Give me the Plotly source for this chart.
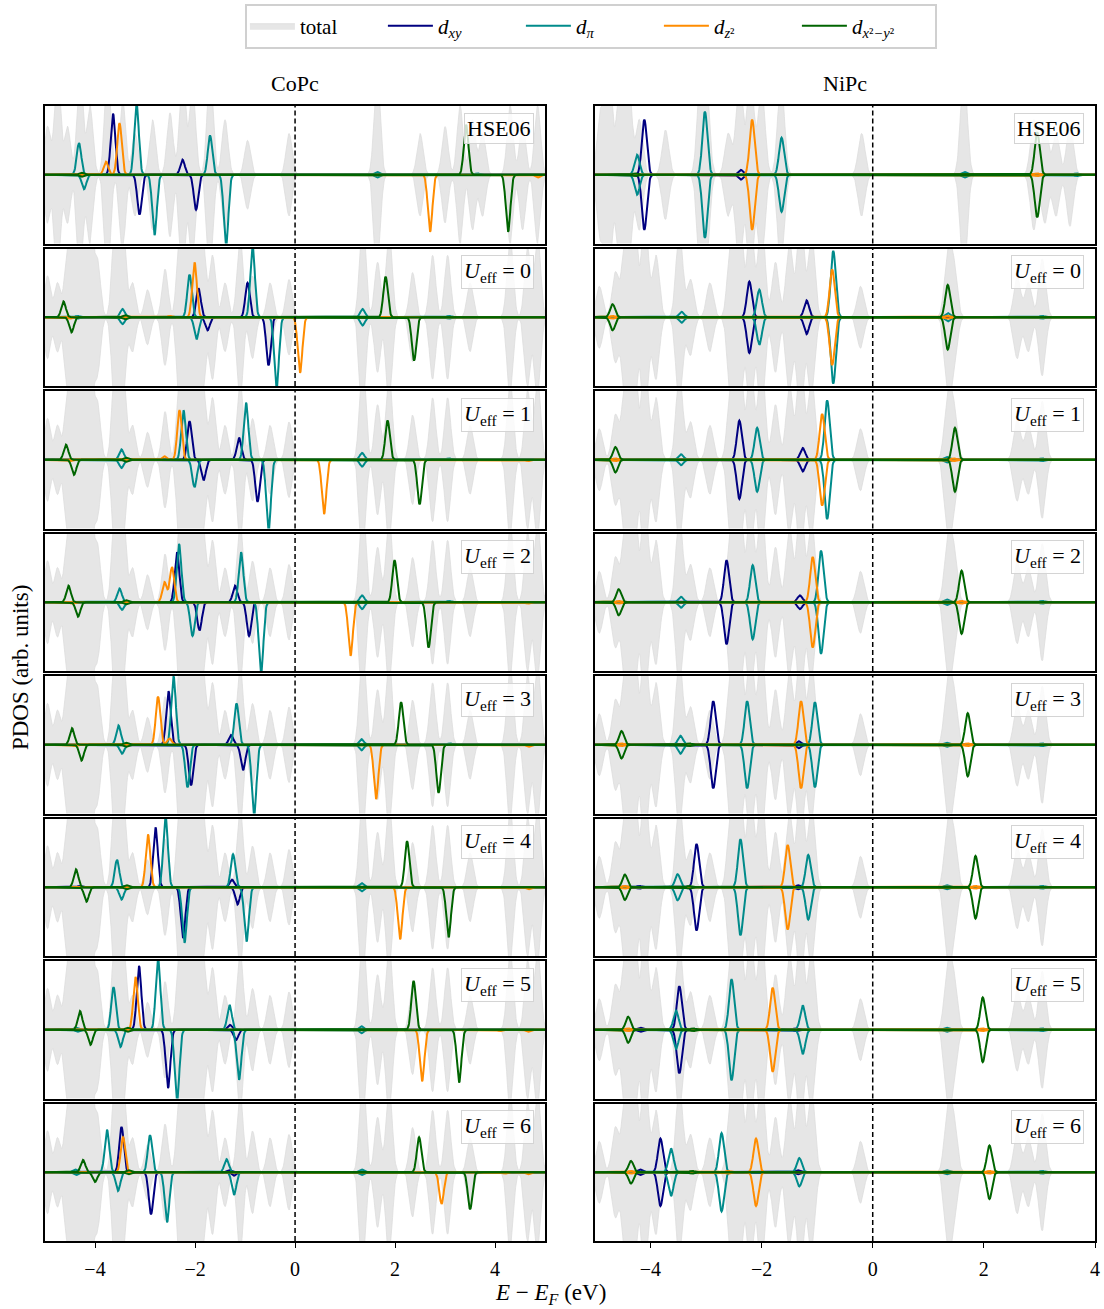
import numpy as np
import plotly.graph_objects as go
from plotly.subplots import make_subplots

# ---------------------------------------------------------------- data
PANELS = ["HSE06", "0", "1", "2", "3", "4", "5", "6"]
SYSTEMS = ["CoPc", "NiPc"]
X_RANGES = [[-5, 5], [-5, 4]]
TICK_VALS = [-4, -2, 0, 2, 4]
TICK_TEXT = ["−4", "−2", "0", "2", "4"]

ORBITAL_NAMES = ["total", "<i>d</i><sub><i>xy</i></sub>", "<i>d</i><sub><i>π</i></sub>",
                 "<i>d</i><sub><i>z</i>²</sub>", "<i>d</i><sub><i>x</i>²<i>−y</i>²</sub>"]

# total DOS envelope peaks (energy eV, height)
COPC_TOTAL_HSE = [(-4.95, 0.7), (-4.75, 1.5), (-4.55, 0.7), (-4.3, 1.5), (-4.1, 1.0), (-3.75, 1.5),
                  (-3.45, 1.1), (-3.2, 0.6), (-2.85, 0.8), (-2.5, 0.9), (-2.25, 1.5), (-2.05, 1.3),
                  (-1.7, 1.5), (-1.4, 0.8), (-0.95, 0.5), (-0.12, 0.6), (1.64, 1.5), (2.5, 0.6),
                  (3.0, 0.7), (3.3, 1.0), (3.55, 0.8), (3.75, 0.6), (4.3, 1.0), (4.55, 0.8), (4.85, 1.0)]
COPC_TOTAL_U = [(-4.95, 0.6), (-4.75, 0.5), (-4.55, 1.0), (-4.4, 1.3), (-4.25, 1.5), (-4.1, 1.5),
                (-3.95, 0.8), (-3.6, 1.4), (-3.45, 1.4), (-3.25, 0.5), (-2.95, 0.4), (-2.6, 0.7),
                (-2.3, 1.4), (-2.15, 1.5), (-2.0, 1.4), (-1.85, 1.2), (-1.65, 0.9), (-1.4, 0.5),
                (-1.1, 1.2), (-0.85, 0.6), (-0.5, 0.5), (-0.12, 0.55), (1.35, 1.5), (1.65, 0.8),
                (1.88, 1.3), (2.35, 0.65), (2.75, 0.9), (3.05, 0.9), (3.5, 0.5), (4.3, 1.2),
                (4.65, 1.0), (4.85, 1.2)]
NIPC_TOTAL_HSE = [(-4.9, 0.9), (-4.75, 1.5), (-4.55, 1.3), (-4.4, 1.5), (-4.2, 0.8), (-3.73, 0.65),
                  (-3.1, 1.3), (-3.0, 1.3), (-2.6, 0.6), (-2.4, 1.4), (-2.2, 1.5), (-2.0, 1.3),
                  (-1.65, 1.4), (-0.2, 0.6), (1.64, 1.5), (2.9, 0.8), (3.1, 0.7), (3.3, 0.6), (3.55, 0.75)]
NIPC_TOTAL_U = [(-4.92, 0.45), (-4.63, 0.65), (-4.45, 1.2), (-4.3, 1.5), (-4.1, 1.5), (-3.9, 0.9),
                (-3.48, 1.3), (-3.28, 0.55), (-2.93, 0.5), (-2.55, 1.2), (-2.4, 1.5), (-2.2, 1.4),
                (-2.0, 1.5), (-1.75, 0.8), (-1.5, 1.1), (-1.3, 1.5), (-1.1, 1.2), (-0.22, 0.45),
                (1.35, 0.95), (1.46, 0.7), (2.6, 0.6), (2.8, 0.5), (3.05, 0.85)]

# CoPc (spin-polarised): per panel -> (spin-up peaks, spin-down peaks)
COPC_DXY = [
    ([(-3.64, 0.89), (-2.25, 0.22)], [(-3.11, 0.58), (-1.98, 0.51)]),
    ([(-1.93, 0.42), (-0.95, 0.50)], [(-1.75, 0.19), (-0.53, 0.70)]),
    ([(-2.11, 0.56), (-1.12, 0.32)], [(-1.83, 0.30), (-0.75, 0.61)]),
    ([(-2.36, 0.73), (-1.20, 0.24)], [(-1.91, 0.41), (-0.92, 0.49)]),
    ([(-2.53, 0.78), (-1.28, 0.14)], [(-2.08, 0.59), (-1.04, 0.37)]),
    ([(-4.3, 0.02), (-2.79, 0.87), (-1.26, 0.11)], [(-2.24, 0.74), (-1.15, 0.25)]),
    ([(-3.12, 0.93), (-1.30, 0.07)], [(-2.54, 0.85), (-1.18, 0.15)]),
    ([(-3.47, 0.66), (-1.32, 0.03)], [(-2.88, 0.61), (-1.22, 0.05)]),
]
COPC_DPI = [
    ([(-4.32, 0.46), (-3.17, 1.05), (-1.70, 0.57), (1.64, 0.04), (3.65, 0.02)],
     [(-4.22, 0.21), (-2.81, 0.88), (-1.38, 1.05), (1.64, 0.04)]),
    ([(-4.35, 0.02), (-3.45, 0.12), (-2.11, 0.62), (-0.85, 1.05), (1.35, 0.12), (3.08, 0.02)],
     [(-4.35, 0.02), (-3.45, 0.10), (-1.97, 0.32), (-0.37, 1.05), (1.35, 0.12), (3.08, 0.02)]),
    ([(-3.47, 0.15), (-2.23, 0.72), (-0.98, 0.83), (1.34, 0.10), (3.08, 0.02)],
     [(-3.47, 0.12), (-2.01, 0.40), (-0.53, 1.05), (1.34, 0.10)]),
    ([(-3.51, 0.20), (-2.32, 0.85), (-1.08, 0.73), (1.34, 0.10), (3.08, 0.02)],
     [(-3.46, 0.11), (-2.05, 0.49), (-0.68, 1.05), (1.34, 0.10)]),
    ([(-3.53, 0.28), (-2.43, 1.00), (-1.17, 0.60), (1.33, 0.08), (3.10, 0.02)],
     [(-3.46, 0.13), (-2.15, 0.62), (-0.82, 1.05), (1.33, 0.08)]),
    ([(-3.56, 0.40), (-2.59, 1.05), (-1.24, 0.48), (1.33, 0.06)],
     [(-3.47, 0.18), (-2.21, 0.81), (-0.97, 0.79), (1.33, 0.06)]),
    ([(-4.38, 0.03), (-3.63, 0.62), (-2.74, 1.05), (-1.31, 0.36), (1.33, 0.05)],
     [(-4.35, 0.03), (-3.49, 0.25), (-2.36, 1.05), (-1.12, 0.73), (1.33, 0.05)]),
    ([(-4.40, 0.04), (-3.76, 0.62), (-2.90, 0.54), (-1.37, 0.19), (1.33, 0.04)],
     [(-4.38, 0.04), (-3.54, 0.27), (-2.56, 0.73), (-1.22, 0.33), (1.33, 0.04)]),
]
COPC_DZ2 = [
    ([(-3.78, 0.19), (-3.51, 0.75)], [(2.70, 0.83), (4.85, 0.04)]),
    ([(-2.50, 0.02), (-2.01, 0.80)], [(-4.50, 0.02), (0.10, 0.81)]),
    ([(-2.61, 0.05), (-2.31, 0.72)], [(-4.50, 0.02), (0.58, 0.79), (4.66, 0.02)]),
    ([(-2.61, 0.29), (-2.46, 0.51)], [(-4.45, 0.02), (1.11, 0.78), (4.66, 0.02)]),
    ([(-2.74, 0.70), (-2.51, 0.09)], [(-4.40, 0.02), (1.62, 0.79), (4.67, 0.03)]),
    ([(-2.94, 0.77)], [(2.10, 0.76), (4.67, 0.03)]),
    ([(-3.19, 0.77)], [(2.54, 0.75), (4.10, 0.02), (4.66, 0.03)]),
    ([(-3.44, 0.51)], [(2.93, 0.46), (4.20, 0.02), (4.66, 0.03)]),
]
COPC_DX2Y2 = [
    ([(-4.27, 0.03), (3.42, 0.73)], [(-4.27, 0.03), (4.26, 0.83)]),
    ([(-4.63, 0.23), (-3.40, 0.03), (1.81, 0.59)], [(-4.47, 0.22), (-3.40, 0.03), (2.38, 0.63)]),
    ([(-4.58, 0.22), (-3.38, 0.03), (1.85, 0.57)], [(-4.42, 0.22), (-3.38, 0.03), (2.49, 0.65)]),
    ([(-4.53, 0.24), (-3.38, 0.03), (1.99, 0.61)], [(-4.34, 0.21), (-3.38, 0.03), (2.67, 0.66)]),
    ([(-4.46, 0.24), (-3.38, 0.03), (2.12, 0.62)], [(-4.27, 0.23), (-3.38, 0.03), (2.87, 0.70)]),
    ([(-4.38, 0.26), (-3.37, 0.03), (2.24, 0.67)], [(-4.17, 0.21), (-3.37, 0.03), (3.07, 0.73)]),
    ([(-4.30, 0.27), (-3.35, 0.03), (2.37, 0.71)], [(-4.09, 0.22), (-3.35, 0.03), (3.28, 0.77)]),
    ([(-4.24, 0.18), (-3.33, 0.03), (2.48, 0.51)], [(-4.00, 0.14), (-3.33, 0.03), (3.50, 0.54)]),
]

# NiPc (spin-degenerate): per panel peaks, mirrored for spin-down
NIPC_DXY = [
    [(-4.11, 0.80), (-2.37, 0.07)],
    [(-2.22, 0.52), (-1.19, 0.245)],
    [(-2.40, 0.57), (-1.26, 0.17)],
    [(-2.63, 0.61), (-1.31, 0.10)],
    [(-2.87, 0.635), (-1.33, 0.05)],
    [(-4.20, 0.02), (-3.17, 0.63), (-1.35, 0.03)],
    [(-4.18, 0.03), (-3.48, 0.635), (-1.38, 0.02)],
    [(-4.19, 0.04), (-3.82, 0.49), (-1.35, 0.03)],
]
NIPC_DPI = [
    [(-4.24, 0.29), (-3.02, 0.92), (-1.64, 0.54), (1.65, 0.04), (3.67, 0.02)],
    [(-4.45, 0.01), (-3.44, 0.08), (-2.04, 0.40), (-0.71, 0.965), (1.35, 0.06), (3.05, 0.02)],
    [(-4.45, 0.01), (-3.45, 0.08), (-2.08, 0.465), (-0.82, 0.865), (1.33, 0.04), (3.05, 0.02)],
    [(-3.45, 0.08), (-2.16, 0.54), (-0.93, 0.75), (1.33, 0.04), (3.05, 0.02)],
    [(-3.46, 0.13), (-2.26, 0.635), (-1.04, 0.62), (1.33, 0.03), (3.05, 0.02)],
    [(-3.51, 0.19), (-2.38, 0.70), (-1.16, 0.47), (1.33, 0.03), (3.05, 0.02)],
    [(-3.54, 0.28), (-2.54, 0.735), (-1.26, 0.355), (1.33, 0.03), (3.05, 0.02)],
    [(-3.63, 0.345), (-2.72, 0.57), (-1.32, 0.205), (1.33, 0.03), (3.05, 0.02)],
]
NIPC_DZ2 = [
    [(-2.17, 0.80), (2.96, 0.02)],
    [(-4.68, 0.02), (-0.73, 0.695), (1.35, 0.02)],
    [(-4.63, 0.02), (-0.91, 0.665), (1.46, 0.02)],
    [(-4.57, 0.02), (-1.08, 0.66), (1.60, 0.02)],
    [(-4.52, 0.02), (-1.29, 0.635), (1.71, 0.02)],
    [(-4.46, 0.02), (-1.53, 0.615), (1.85, 0.02)],
    [(-4.40, 0.02), (-1.80, 0.61), (1.98, 0.02)],
    [(-4.35, 0.02), (-2.60, 0.02), (-2.10, 0.49), (2.10, 0.02)],
]
NIPC_DX2Y2 = [
    [(-4.27, 0.02), (2.96, 0.62)],
    [(-4.68, 0.19), (1.35, 0.47)],
    [(-4.63, 0.185), (1.48, 0.465)],
    [(-4.57, 0.19), (1.60, 0.46)],
    [(-4.52, 0.20), (-3.30, 0.02), (1.71, 0.46)],
    [(-4.46, 0.185), (-3.30, 0.02), (1.85, 0.455)],
    [(-4.40, 0.19), (-3.23, 0.02), (1.98, 0.47)],
    [(-4.35, 0.165), (-3.25, 0.02), (2.10, 0.39)],
]

# ---------------------------------------------------------------- styling
FONT = "Liberation Serif"
COLORS = ["#000080", "#008b8b", "#ff8c00", "#006400"]
GRAY = "#e6e6e6"
SIGMA_PDOS = 0.045
SIGMA_TOTAL = 0.06

FIG_W, FIG_H = 1104, 1309
PL, PR, PT, PB = 45, 1100, 106, 1241  # plot-area edges in page pixels
PW, PH = PR - PL, PB - PT

E = np.round(np.arange(-5.1, 5.1001, 0.01), 3)


def broaden(peaks, sigma):
    y = np.zeros_like(E)
    for e0, h in peaks:
        y += h * np.exp(-0.5 * ((E - e0) / sigma) ** 2)
    return y


fig = make_subplots(rows=8, cols=2, horizontal_spacing=50 / PW,
                    vertical_spacing=5 / PH)

copc_orbs = [COPC_DXY, COPC_DPI, COPC_DZ2, COPC_DX2Y2]
nipc_orbs = [NIPC_DXY, NIPC_DPI, NIPC_DZ2, NIPC_DX2Y2]

for c in range(2):
    for r in range(8):
        first = (c == 0 and r == 0)
        if c == 0:
            tot = COPC_TOTAL_HSE if r == 0 else COPC_TOTAL_U
        else:
            tot = NIPC_TOTAL_HSE if r == 0 else NIPC_TOTAL_U
        t = broaden(tot, SIGMA_TOTAL)
        fig.add_trace(go.Scatter(
            x=np.concatenate([E, E[::-1]]), y=np.round(np.concatenate([t, -t[::-1]]), 4),
            mode="lines", fill="toself", fillcolor=GRAY,
            line=dict(color="#dddddd", width=0.8),
            name=ORBITAL_NAMES[0], legendgroup="total", showlegend=first,
            hoverinfo="skip"), row=r + 1, col=c + 1)
        for k in range(4):
            if c == 0:
                up_peaks, dn_peaks = copc_orbs[k][r]
            else:
                up_peaks = dn_peaks = nipc_orbs[k][r]
            up = np.round(broaden(up_peaks, SIGMA_PDOS), 4)
            dn = np.round(-broaden(dn_peaks, SIGMA_PDOS), 4)
            xs = list(E) + [None] + list(E)
            ys = list(up) + [None] + list(dn)
            fig.add_trace(go.Scatter(
                x=xs, y=ys, mode="lines", line=dict(color=COLORS[k], width=2),
                name=ORBITAL_NAMES[k + 1], legendgroup=f"o{k}", showlegend=first,
                hoverinfo="skip"), row=r + 1, col=c + 1)
        fig.add_vline(x=0, line=dict(color="black", width=1.5, dash="5px,3px"),
                      row=r + 1, col=c + 1)
        label = "HSE06" if r == 0 else f"<i>U</i><sub>eff</sub> = {PANELS[r]}"
        idx = r * 2 + c + 1
        sfx = "" if idx == 1 else str(idx)
        fig.add_annotation(text=label, xref=f"x{sfx} domain", yref=f"y{sfx} domain",
                           x=0.978, y=0.95, xanchor="right", yanchor="top", showarrow=False,
                           font=dict(family=FONT, size=22, color="black"),
                           bgcolor="rgba(255,255,255,0.8)", bordercolor="#d4d4d4",
                           borderwidth=1, borderpad=2)

for c in range(2):
    for r in range(8):
        bottom = (r == 7)
        fig.update_xaxes(range=X_RANGES[c], showgrid=False, zeroline=False,
                         showline=True, mirror=True, linecolor="black", linewidth=1.6,
                         ticks="outside" if bottom else "", ticklen=5, tickwidth=1.2,
                         tickcolor="black", ticklabelstandoff=4,
                         tickvals=TICK_VALS, ticktext=TICK_TEXT, showticklabels=bottom,
                         tickfont=dict(family=FONT, size=20, color="black"),
                         row=r + 1, col=c + 1)
        fig.update_yaxes(range=[-1, 1], showgrid=False, zeroline=False,
                         showline=True, mirror=True, linecolor="black", linewidth=1.6,
                         ticks="", showticklabels=False, row=r + 1, col=c + 1)


def px_x(x):
    return (x - PL) / PW


def px_y(y):
    return (PB - y) / PH


# column titles and axis labels
for c, name in enumerate(SYSTEMS):
    xc = px_x(296) if c == 0 else px_x(848.5)
    fig.add_annotation(text=name, xref="paper", yref="paper", x=xc, y=px_y(84),
                       xanchor="center", yanchor="middle", showarrow=False,
                       font=dict(family=FONT, size=22, color="black"))
fig.add_annotation(text="PDOS (arb. units)", xref="paper", yref="paper",
                   x=px_x(20), y=px_y(668), textangle=-90,
                   xanchor="center", yanchor="middle", showarrow=False,
                   font=dict(family=FONT, size=23, color="black"))
fig.add_annotation(text="<i>E</i> − <i>E</i><sub><i>F</i></sub> (eV)", xref="paper", yref="paper",
                   x=px_x(553), y=px_y(1294),
                   xanchor="center", yanchor="middle", showarrow=False,
                   font=dict(family=FONT, size=23, color="black"))

fig.update_layout(
    width=FIG_W, height=FIG_H,
    margin=dict(l=PL, r=FIG_W - PR, t=PT, b=FIG_H - PB),
    paper_bgcolor="white", plot_bgcolor="white",
    font=dict(family=FONT, size=16, color="black"),
    legend=dict(orientation="h", x=px_x(593.5), y=px_y(26),
                xanchor="center", yanchor="middle",
                bgcolor="white", bordercolor="#d0d0d0", borderwidth=2,
                font=dict(family=FONT, size=21, color="black"),
                entrywidth=78, itemwidth=45),
)

# remove the default 8px page margin so figure pixels map 1:1 to the window
fig.write_html("out.html", config={"displayModeBar": False},
               post_script="document.body.style.margin='0px';"
                           "document.body.style.overflow='hidden';")
